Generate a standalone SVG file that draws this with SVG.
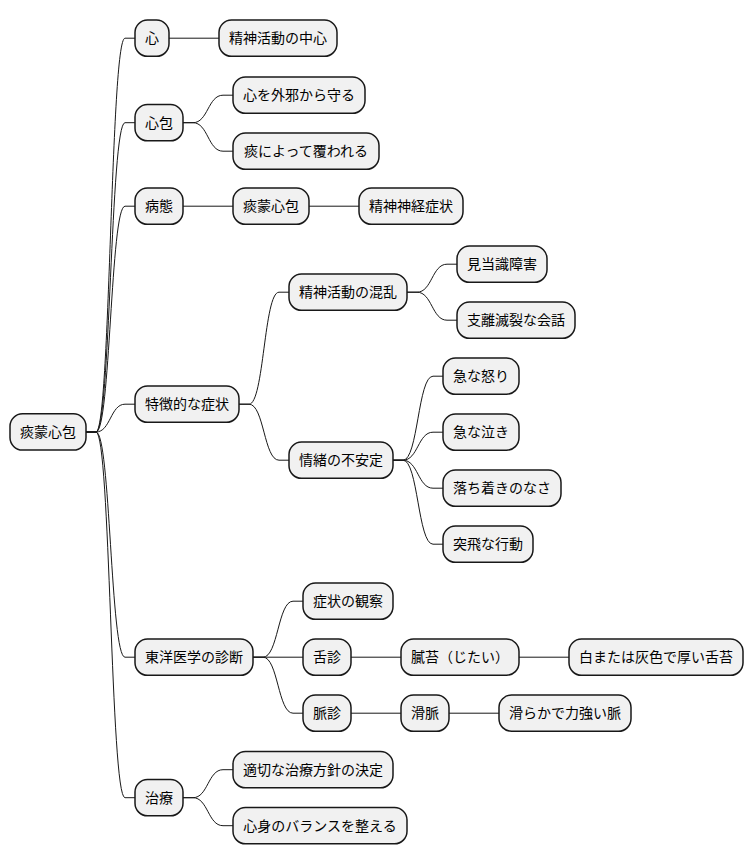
<svg xmlns="http://www.w3.org/2000/svg" width="754" height="865" viewBox="0 0 754 865">
<style>
.n rect{fill:#F1F1F1;stroke:#181818;stroke-width:1.5}
.n text{font-family:"Noto Sans CJK JP","Noto Sans CJK SC",sans-serif;font-size:14px;fill:#000;text-anchor:middle}
#edges path{fill:none;stroke:#181818;stroke-width:1}
</style>
<rect width="754" height="865" fill="#FFFFFF"/>
<g id="edges">
<path d="M86 432 L96 432 C110.5 432 110.5 38.2 125 38.2 L135 38.2"/>
<path d="M86 432 L96 432 C110.5 432 110.5 122.7 125 122.7 L135 122.7"/>
<path d="M86 432 L96 432 C110.5 432 110.5 206.2 125 206.2 L135 206.2"/>
<path d="M86 432 L96 432 C110.5 432 110.5 404.2 125 404.2 L135 404.2"/>
<path d="M86 432 L96 432 C110.5 432 110.5 657.2 125 657.2 L135 657.2"/>
<path d="M86 432 L96 432 C110.5 432 110.5 797.7 125 797.7 L135 797.7"/>
<path d="M169 38.2 L219 38.2"/>
<path d="M183 122.7 L193 122.7 C208 122.7 208 95.2 223 95.2 L233 95.2"/>
<path d="M183 122.7 L193 122.7 C208 122.7 208 151.2 223 151.2 L233 151.2"/>
<path d="M183 206.2 L233 206.2"/>
<path d="M309 206.2 L359 206.2"/>
<path d="M239 404.2 L249 404.2 C264 404.2 264 292.2 279 292.2 L289 292.2"/>
<path d="M239 404.2 L249 404.2 C264 404.2 264 460.2 279 460.2 L289 460.2"/>
<path d="M407 292.2 L417 292.2 C432 292.2 432 264.2 447 264.2 L457 264.2"/>
<path d="M407 292.2 L417 292.2 C432 292.2 432 320.2 447 320.2 L457 320.2"/>
<path d="M393 460.2 L403 460.2 C418 460.2 418 376.2 433 376.2 L443 376.2"/>
<path d="M393 460.2 L403 460.2 C418 460.2 418 432.2 433 432.2 L443 432.2"/>
<path d="M393 460.2 L403 460.2 C418 460.2 418 488.2 433 488.2 L443 488.2"/>
<path d="M393 460.2 L403 460.2 C418 460.2 418 544.2 433 544.2 L443 544.2"/>
<path d="M253 657.2 L263 657.2 C278 657.2 278 601.2 293 601.2 L303 601.2"/>
<path d="M253 657.2 L303 657.2"/>
<path d="M253 657.2 L263 657.2 C278 657.2 278 713.2 293 713.2 L303 713.2"/>
<path d="M351 657.2 L401 657.2"/>
<path d="M519 657.2 L569 657.2"/>
<path d="M351 713.2 L401 713.2"/>
<path d="M449 713.2 L499 713.2"/>
<path d="M183 797.7 L193 797.7 C208 797.7 208 769.7 223 769.7 L233 769.7"/>
<path d="M183 797.7 L193 797.7 C208 797.7 208 825.7 223 825.7 L233 825.7"/>
</g>
<g id="root" class="n"><rect x="10" y="413.8" width="76" height="36.3" rx="12.5"/><text x="48" y="437">痰蒙心包</text></g>
<g id="n1" class="n"><rect x="135" y="20" width="34" height="36.3" rx="12.5"/><text x="152" y="43.2">心</text></g>
<g id="n1a" class="n"><rect x="219" y="20" width="118" height="36.3" rx="12.5"/><text x="278" y="43.2">精神活動の中心</text></g>
<g id="n2" class="n"><rect x="135" y="104.5" width="48" height="36.3" rx="12.5"/><text x="159" y="127.7">心包</text></g>
<g id="n2a" class="n"><rect x="233" y="77" width="132" height="36.3" rx="12.5"/><text x="299" y="100.2">心を外邪から守る</text></g>
<g id="n2b" class="n"><rect x="233" y="133" width="146" height="36.3" rx="12.5"/><text x="306" y="156.2">痰によって覆われる</text></g>
<g id="n3" class="n"><rect x="135" y="188" width="48" height="36.3" rx="12.5"/><text x="159" y="211.2">病態</text></g>
<g id="n3a" class="n"><rect x="233" y="188" width="76" height="36.3" rx="12.5"/><text x="271" y="211.2">痰蒙心包</text></g>
<g id="n3b" class="n"><rect x="359" y="188" width="104" height="36.3" rx="12.5"/><text x="411" y="211.2">精神神経症状</text></g>
<g id="n4" class="n"><rect x="135" y="386" width="104" height="36.3" rx="12.5"/><text x="187" y="409.2">特徴的な症状</text></g>
<g id="n4a" class="n"><rect x="289" y="274" width="118" height="36.3" rx="12.5"/><text x="348" y="297.2">精神活動の混乱</text></g>
<g id="n4a1" class="n"><rect x="457" y="246" width="90" height="36.3" rx="12.5"/><text x="502" y="269.2">見当識障害</text></g>
<g id="n4a2" class="n"><rect x="457" y="302" width="118" height="36.3" rx="12.5"/><text x="516" y="325.2">支離滅裂な会話</text></g>
<g id="n4b" class="n"><rect x="289" y="442" width="104" height="36.3" rx="12.5"/><text x="341" y="465.2">情緒の不安定</text></g>
<g id="n4b1" class="n"><rect x="443" y="358" width="76" height="36.3" rx="12.5"/><text x="481" y="381.2">急な怒り</text></g>
<g id="n4b2" class="n"><rect x="443" y="414" width="76" height="36.3" rx="12.5"/><text x="481" y="437.2">急な泣き</text></g>
<g id="n4b3" class="n"><rect x="443" y="470" width="118" height="36.3" rx="12.5"/><text x="502" y="493.2">落ち着きのなさ</text></g>
<g id="n4b4" class="n"><rect x="443" y="526" width="90" height="36.3" rx="12.5"/><text x="488" y="549.2">突飛な行動</text></g>
<g id="n5" class="n"><rect x="135" y="639" width="118" height="36.3" rx="12.5"/><text x="194" y="662.2">東洋医学の診断</text></g>
<g id="n5a" class="n"><rect x="303" y="583" width="90" height="36.3" rx="12.5"/><text x="348" y="606.2">症状の観察</text></g>
<g id="n5b" class="n"><rect x="303" y="639" width="48" height="36.3" rx="12.5"/><text x="327" y="662.2">舌診</text></g>
<g id="n5b1" class="n"><rect x="401" y="639" width="118" height="36.3" rx="12.5"/><text x="460" y="662.2">膩苔（じたい）</text></g>
<g id="n5b1a" class="n"><rect x="569" y="639" width="174" height="36.3" rx="12.5"/><text x="656" y="662.2">白または灰色で厚い舌苔</text></g>
<g id="n5c" class="n"><rect x="303" y="695" width="48" height="36.3" rx="12.5"/><text x="327" y="718.2">脈診</text></g>
<g id="n5c1" class="n"><rect x="401" y="695" width="48" height="36.3" rx="12.5"/><text x="425" y="718.2">滑脈</text></g>
<g id="n5c1a" class="n"><rect x="499" y="695" width="132" height="36.3" rx="12.5"/><text x="565" y="718.2">滑らかで力強い脈</text></g>
<g id="n6" class="n"><rect x="135" y="779.5" width="48" height="36.3" rx="12.5"/><text x="159" y="802.7">治療</text></g>
<g id="n6a" class="n"><rect x="233" y="751.5" width="160" height="36.3" rx="12.5"/><text x="313" y="774.7">適切な治療方針の決定</text></g>
<g id="n6b" class="n"><rect x="233" y="807.5" width="174" height="36.3" rx="12.5"/><text x="320" y="830.7">心身のバランスを整える</text></g>
</svg>
